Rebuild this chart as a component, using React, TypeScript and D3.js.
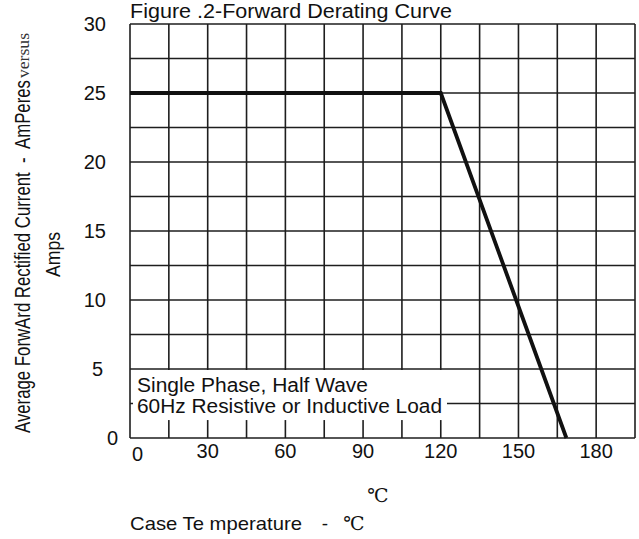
import { useEffect, useRef } from "react";
import * as d3 from "d3";

// derating curve: case temperature (°C) vs. average forward current (A)
const caseTemp = [0, 120, 168.5];
const forwardAmps = [25, 25, 0];

const xTicks = [0, 30, 60, 90, 120, 150, 180];
const yTicks = [0, 5, 10, 15, 20, 25, 30];

const noteLines = ["Single Phase, Half Wave", "60Hz Resistive or Inductive Load"];

const W = 639;
const H = 539;
const SANS = "'Liberation Sans', Arial, Helvetica, sans-serif";
const SERIF = "'Liberation Serif', 'Times New Roman', serif";
const DEG_SERIF = "'DejaVu Serif', 'Liberation Serif', serif";

export default function App() {
  const svgRef = useRef<SVGSVGElement | null>(null);

  useEffect(() => {
    if (!svgRef.current) return;
    const svg = d3.select(svgRef.current);
    svg.selectAll("*").remove();

    const x = d3.scaleLinear().domain([0, 195]).range([130, 635]);
    const y = d3.scaleLinear().domain([0, 30]).range([438, 24]);

    svg.append("rect").attr("width", W).attr("height", H).attr("fill", "#fff");

    // grid
    const grid = svg.append("g").attr("stroke", "#1e1e1e").attr("stroke-width", 1.6);
    grid.selectAll("line.v")
      .data(d3.range(0, 196, 15))
      .join("line")
      .attr("class", "v")
      .attr("x1", d => x(d)).attr("x2", d => x(d))
      .attr("y1", y(0)).attr("y2", y(30));
    grid.selectAll("line.h")
      .data(d3.range(0, 30.01, 2.5))
      .join("line")
      .attr("class", "h")
      .attr("x1", x(0)).attr("x2", x(195))
      .attr("y1", d => y(d)).attr("y2", d => y(d));

    // note box covering the grid
    svg.append("rect")
      .attr("x", x(0) + 3)
      .attr("y", y(5) + 1)
      .attr("width", x(122.4) - x(0) - 3)
      .attr("height", y(1.3) - y(5) - 1)
      .attr("fill", "#fff");

    svg.selectAll("text.note")
      .data(noteLines)
      .join("text")
      .attr("class", "note")
      .attr("x", 137)
      .attr("y", (_, i) => 392 + i * 21)
      .attr("font-family", SANS)
      .attr("font-size", 20)
      .attr("fill", "#111")
      .attr("textLength", (_, i) => (i === 0 ? 231 : 305))
      .attr("lengthAdjust", "spacingAndGlyphs")
      .text(d => d);

    // curve
    const line = d3.line<number>()
      .x(d => x(d))
      .y((_, i) => y(forwardAmps[i]));
    svg.append("path")
      .datum(caseTemp)
      .attr("fill", "none")
      .attr("stroke", "#111")
      .attr("stroke-width", 3.8)
      .attr("d", line);

    // x tick labels
    svg.selectAll("text.xt")
      .data(xTicks)
      .join("text")
      .attr("class", "xt")
      .attr("x", d => (d === 0 ? x(0) + 2 : x(d)))
      .attr("y", d => (d === 0 ? 461 : 458))
      .attr("text-anchor", d => (d === 0 ? "start" : "middle"))
      .attr("font-family", SANS)
      .attr("font-size", 20)
      .attr("fill", "#111")
      .text(d => d);

    // y tick labels
    svg.selectAll("text.yt")
      .data(yTicks)
      .join("text")
      .attr("class", "yt")
      .attr("x", d => (d === 0 ? 118 : d === 5 ? 103 : 106))
      .attr("y", d => y(d) + 7)
      .attr("text-anchor", "end")
      .attr("font-family", SANS)
      .attr("font-size", 20)
      .attr("fill", "#111")
      .text(d => d);

    // title
    svg.append("text")
      .attr("x", 130).attr("y", 18)
      .attr("font-family", SANS).attr("font-size", 19.5)
      .attr("fill", "#111")
      .attr("textLength", 322).attr("lengthAdjust", "spacingAndGlyphs")
      .text("Figure .2-Forward Derating Curve");

    // y axis title
    svg.append("text")
      .attr("transform", "translate(30,433) rotate(-90)")
      .attr("font-family", SANS).attr("font-size", 22)
      .attr("fill", "#111")
      .attr("textLength", 353).attr("lengthAdjust", "spacingAndGlyphs")
      .attr("xml:space", "preserve")
      .text("Average ForwArd Rectified Current  -  AmPeres");
    svg.append("text")
      .attr("transform", "translate(29,78) rotate(-90)")
      .attr("font-family", SERIF).attr("font-size", 16)
      .attr("fill", "#333")
      .attr("textLength", 45).attr("lengthAdjust", "spacingAndGlyphs")
      .text("versus");
    svg.append("text")
      .attr("transform", "translate(60,277) rotate(-90)")
      .attr("font-family", SANS).attr("font-size", 21)
      .attr("fill", "#111")
      .attr("textLength", 45).attr("lengthAdjust", "spacingAndGlyphs")
      .text("Amps");

    // x axis title
    svg.append("text")
      .attr("x", 378).attr("y", 502)
      .attr("text-anchor", "middle")
      .attr("font-family", DEG_SERIF).attr("font-size", 19)
      .attr("fill", "#111")
      .text("℃");
    svg.append("text")
      .attr("x", 130).attr("y", 530)
      .attr("font-family", SANS).attr("font-size", 19)
      .attr("fill", "#111")
      .attr("textLength", 172).attr("lengthAdjust", "spacingAndGlyphs")
      .text("Case Te mperature");
    svg.append("text")
      .attr("x", 325).attr("y", 530)
      .attr("text-anchor", "middle")
      .attr("font-family", SANS).attr("font-size", 19)
      .attr("fill", "#111")
      .text("-");
    svg.append("text")
      .attr("x", 354).attr("y", 530)
      .attr("text-anchor", "middle")
      .attr("font-family", DEG_SERIF).attr("font-size", 19)
      .attr("fill", "#111")
      .text("℃");
  }, []);

  return (
    <svg
      ref={svgRef}
      width={W}
      height={H}
      style={{ position: "absolute", left: 0, top: 0, display: "block" }}
    />
  );
}
